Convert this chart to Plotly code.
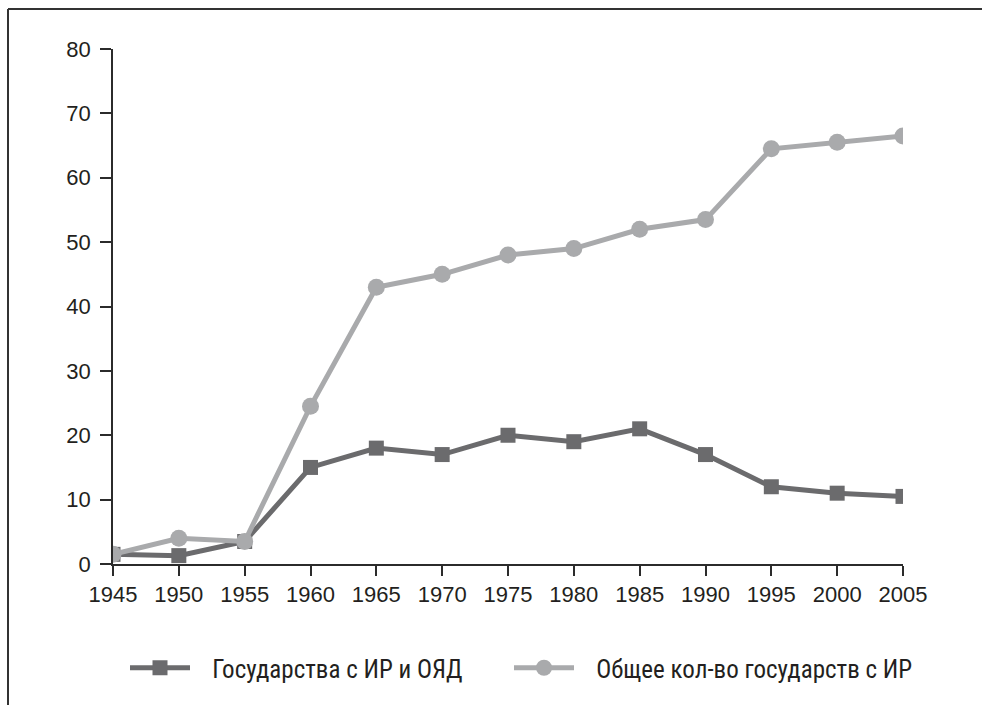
import plotly.graph_objects as go

years = [1945, 1950, 1955, 1960, 1965, 1970, 1975, 1980, 1985, 1990, 1995, 2000, 2005]
states_ir_nw = [1.5, 1.3, 3.5, 15, 18, 17, 20, 19, 21, 17, 12, 11, 10.5]
states_ir_total = [1.5, 4, 3.5, 24.5, 43, 45, 48, 49, 52, 53.5, 64.5, 65.5, 66.5]
name_nw = "Государства с ИР и ОЯД"
name_total = "Общее кол-во государств с ИР"
y_ticks = [0, 10, 20, 30, 40, 50, 60, 70, 80]

W, H = 982, 705
L, R, T, B = 113, 79, 49, 141
pw, ph = W - L - R, H - T - B

def px(x):
    return (x - L) / pw

def py(y):
    return (H - B - y) / ph

dark = "#6b6b6d"
light = "#a9aaac"
gap = "\u00a0\u00a0\u00a0"

fig = go.Figure()
fig.add_trace(go.Scatter(
    x=years, y=states_ir_nw, name=gap + name_nw, mode="lines+markers",
    line=dict(color=dark, width=5),
    marker=dict(symbol="square", size=15, color=dark),
    legend="legend",
))
fig.add_trace(go.Scatter(
    x=years, y=states_ir_total, name=gap + name_total, mode="lines+markers",
    line=dict(color=light, width=5),
    marker=dict(symbol="circle", size=17, color=light),
    legend="legend2",
))

axis_color = "#2b2b2b"
legend_font = dict(family="Roboto Condensed, Liberation Sans", size=25, color="#231f20")
legend_common = dict(
    orientation="h", y=py(668), xanchor="left", yanchor="middle",
    font=legend_font, itemwidth=60, tracegroupgap=0, bgcolor="rgba(0,0,0,0)",
)
fig.update_layout(
    width=W, height=H,
    margin=dict(l=L, r=R, t=T, b=B, pad=0),
    paper_bgcolor="white", plot_bgcolor="white",
    font=dict(family="Liberation Sans, Arial, sans-serif", size=22, color="#231f20"),
    showlegend=True,
    legend=dict(x=px(125), **legend_common),
    legend2=dict(x=px(509), **legend_common),
    xaxis=dict(
        range=[1945, 2005], tickvals=years, ticktext=[str(y) for y in years],
        showgrid=False, zeroline=False, showline=True, linecolor=axis_color, linewidth=1.5,
        ticks="outside", ticklen=10, tickwidth=1.5, tickcolor=axis_color,
        tickfont=dict(size=22), fixedrange=True,
    ),
    yaxis=dict(
        range=[0, 80], tickvals=y_ticks,
        showgrid=False, zeroline=False, showline=True, linecolor=axis_color, linewidth=1.5,
        ticks="outside", ticklen=11, tickwidth=1.5, tickcolor=axis_color,
        tickfont=dict(size=22), ticklabelstandoff=5, fixedrange=True,
    ),
    shapes=[
        dict(type="line", xref="paper", yref="paper", x0=px(8), x1=px(982), y0=py(9), y1=py(9),
             line=dict(color="#333333", width=2)),
        dict(type="line", xref="paper", yref="paper", x0=px(8), x1=px(8), y0=py(9), y1=py(705),
             line=dict(color="#333333", width=2)),
    ],
)

fig.write_html("out.html", config={"displayModeBar": False},
               post_script="document.body.style.margin='0';")
